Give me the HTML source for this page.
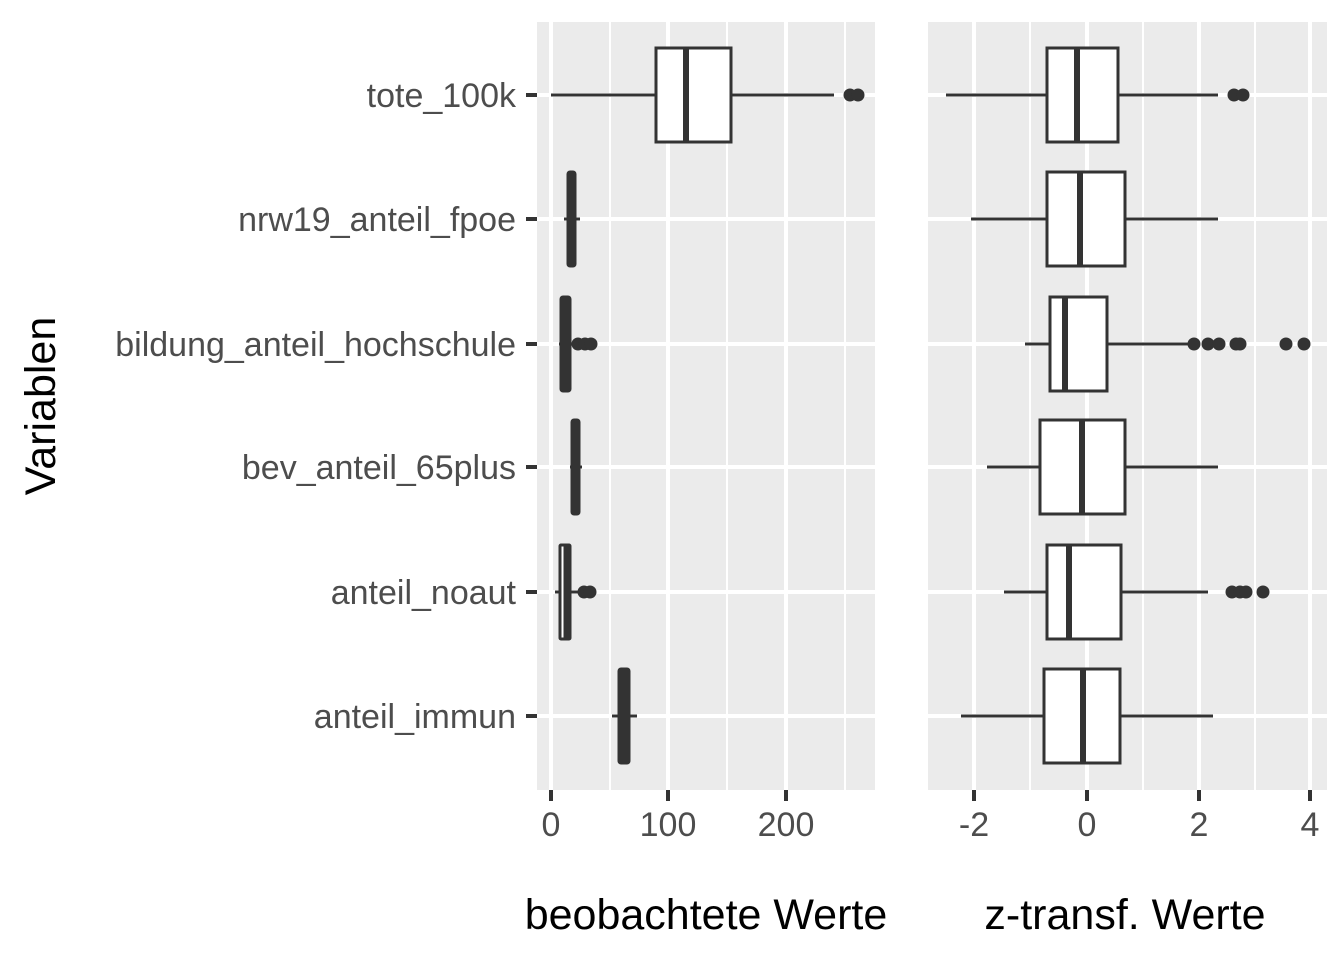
<!DOCTYPE html><html><head><style>body{margin:0;background:#fff}</style></head><body>
<svg width="1344" height="960" xmlns="http://www.w3.org/2000/svg" font-family="Liberation Sans, sans-serif">
<rect width="1344" height="960" fill="#fff"/>
<rect x="537" y="22" width="338" height="768" fill="#EBEBEB"/>
<rect x="928" y="22" width="399" height="768" fill="#EBEBEB"/>
<g stroke="#fff" stroke-width="2">
<line x1="610" y1="22" x2="610" y2="790"/><line x1="727" y1="22" x2="727" y2="790"/><line x1="845" y1="22" x2="845" y2="790"/>
<line x1="1030" y1="22" x2="1030" y2="790"/><line x1="1143" y1="22" x2="1143" y2="790"/><line x1="1255" y1="22" x2="1255" y2="790"/>
</g>
<g stroke="#fff" stroke-width="4">
<line x1="551" y1="22" x2="551" y2="790"/><line x1="668" y1="22" x2="668" y2="790"/><line x1="786" y1="22" x2="786" y2="790"/>
<line x1="974" y1="22" x2="974" y2="790"/><line x1="1087" y1="22" x2="1087" y2="790"/><line x1="1199" y1="22" x2="1199" y2="790"/><line x1="1310" y1="22" x2="1310" y2="790"/>
<line x1="537" y1="95" x2="875" y2="95"/><line x1="537" y1="219" x2="875" y2="219"/><line x1="537" y1="344" x2="875" y2="344"/><line x1="537" y1="467" x2="875" y2="467"/><line x1="537" y1="592" x2="875" y2="592"/><line x1="537" y1="716" x2="875" y2="716"/>
<line x1="928" y1="95" x2="1327" y2="95"/><line x1="928" y1="219" x2="1327" y2="219"/><line x1="928" y1="344" x2="1327" y2="344"/><line x1="928" y1="467" x2="1327" y2="467"/><line x1="928" y1="592" x2="1327" y2="592"/><line x1="928" y1="716" x2="1327" y2="716"/>
</g>
<g stroke="#333" stroke-width="3" fill="#fff">
<line x1="551" y1="95" x2="834" y2="95"/><rect x="656" y="48" width="75" height="94"/><line x1="686" y1="48" x2="686" y2="142" stroke-width="6"/>
<line x1="564" y1="219" x2="580" y2="219"/><rect x="568" y="172" width="7" height="94" fill="#333" rx="2"/>
<line x1="559" y1="344" x2="578" y2="344"/><rect x="561" y="297" width="9" height="94" fill="#333" rx="2"/>
<line x1="570" y1="467" x2="582" y2="467"/><rect x="572" y="420" width="7" height="94" fill="#333" rx="2"/>
<line x1="555" y1="592" x2="580" y2="592"/><rect x="560" y="545" width="10" height="94" rx="1"/><line x1="566" y1="545" x2="566" y2="639" stroke-width="5"/>
<line x1="612" y1="716" x2="637" y2="716"/><rect x="619" y="669" width="10" height="94" fill="#333" rx="2"/>
<line x1="946" y1="95" x2="1218" y2="95"/><rect x="1047" y="48" width="71" height="94"/><line x1="1077" y1="48" x2="1077" y2="142" stroke-width="6"/>
<line x1="971" y1="219" x2="1218" y2="219"/><rect x="1047" y="172" width="78" height="94"/><line x1="1080" y1="172" x2="1080" y2="266" stroke-width="6"/>
<line x1="1025" y1="344" x2="1195" y2="344"/><rect x="1050" y="297" width="57" height="94"/><line x1="1065" y1="297" x2="1065" y2="391" stroke-width="6"/>
<line x1="987" y1="467" x2="1218" y2="467"/><rect x="1040" y="420" width="85" height="94"/><line x1="1082" y1="420" x2="1082" y2="514" stroke-width="6"/>
<line x1="1004" y1="592" x2="1208" y2="592"/><rect x="1047" y="545" width="74" height="94"/><line x1="1069" y1="545" x2="1069" y2="639" stroke-width="6"/>
<line x1="961" y1="716" x2="1213" y2="716"/><rect x="1044" y="669" width="76" height="94"/><line x1="1083" y1="669" x2="1083" y2="763" stroke-width="6"/>
</g>
<g fill="#333">
<circle cx="850" cy="95" r="6.5"/><circle cx="858" cy="95" r="6.5"/>
<circle cx="578" cy="344" r="6.5"/><circle cx="585" cy="344" r="6.5"/><circle cx="591" cy="344" r="6.5"/>
<circle cx="584" cy="592" r="6.5"/><circle cx="590" cy="592" r="6.5"/>
<circle cx="1234" cy="95" r="6.5"/><circle cx="1243" cy="95" r="6.5"/>
<circle cx="1194" cy="344" r="6.5"/><circle cx="1208" cy="344" r="6.5"/><circle cx="1219" cy="344" r="6.5"/><circle cx="1236" cy="344" r="6.5"/><circle cx="1240" cy="344" r="6.5"/><circle cx="1286" cy="344" r="6.5"/><circle cx="1304" cy="344" r="6.5"/>
<circle cx="1232" cy="592" r="6.5"/><circle cx="1240" cy="592" r="6.5"/><circle cx="1246" cy="592" r="6.5"/><circle cx="1263" cy="592" r="6.5"/>
</g>
<g stroke="#333" stroke-width="4">
<line x1="526" y1="95" x2="537" y2="95"/><line x1="526" y1="219" x2="537" y2="219"/><line x1="526" y1="344" x2="537" y2="344"/><line x1="526" y1="467" x2="537" y2="467"/><line x1="526" y1="592" x2="537" y2="592"/><line x1="526" y1="716" x2="537" y2="716"/>
<line x1="551" y1="790" x2="551" y2="801"/><line x1="668" y1="790" x2="668" y2="801"/><line x1="786" y1="790" x2="786" y2="801"/>
<line x1="974" y1="790" x2="974" y2="801"/><line x1="1087" y1="790" x2="1087" y2="801"/><line x1="1199" y1="790" x2="1199" y2="801"/><line x1="1310" y1="790" x2="1310" y2="801"/>
</g>
<g fill="#4D4D4D" font-size="34" text-anchor="end">
<text x="516" y="107">tote_100k</text><text x="516" y="231">nrw19_anteil_fpoe</text><text x="516" y="356">bildung_anteil_hochschule</text><text x="516" y="479">bev_anteil_65plus</text><text x="516" y="604">anteil_noaut</text><text x="516" y="728">anteil_immun</text>
</g>
<g fill="#4D4D4D" font-size="34" text-anchor="middle">
<text x="551" y="836">0</text><text x="668" y="836">100</text><text x="786" y="836">200</text>
<text x="974" y="836">-2</text><text x="1087" y="836">0</text><text x="1199" y="836">2</text><text x="1310" y="836">4</text>
</g>
<g fill="#000" font-size="43" text-anchor="middle">
<text x="706" y="929">beobachtete Werte</text><text x="1125" y="929">z-transf. Werte</text>
<text transform="translate(55,406) rotate(-90)">Variablen</text>
</g>
</svg></body></html>
